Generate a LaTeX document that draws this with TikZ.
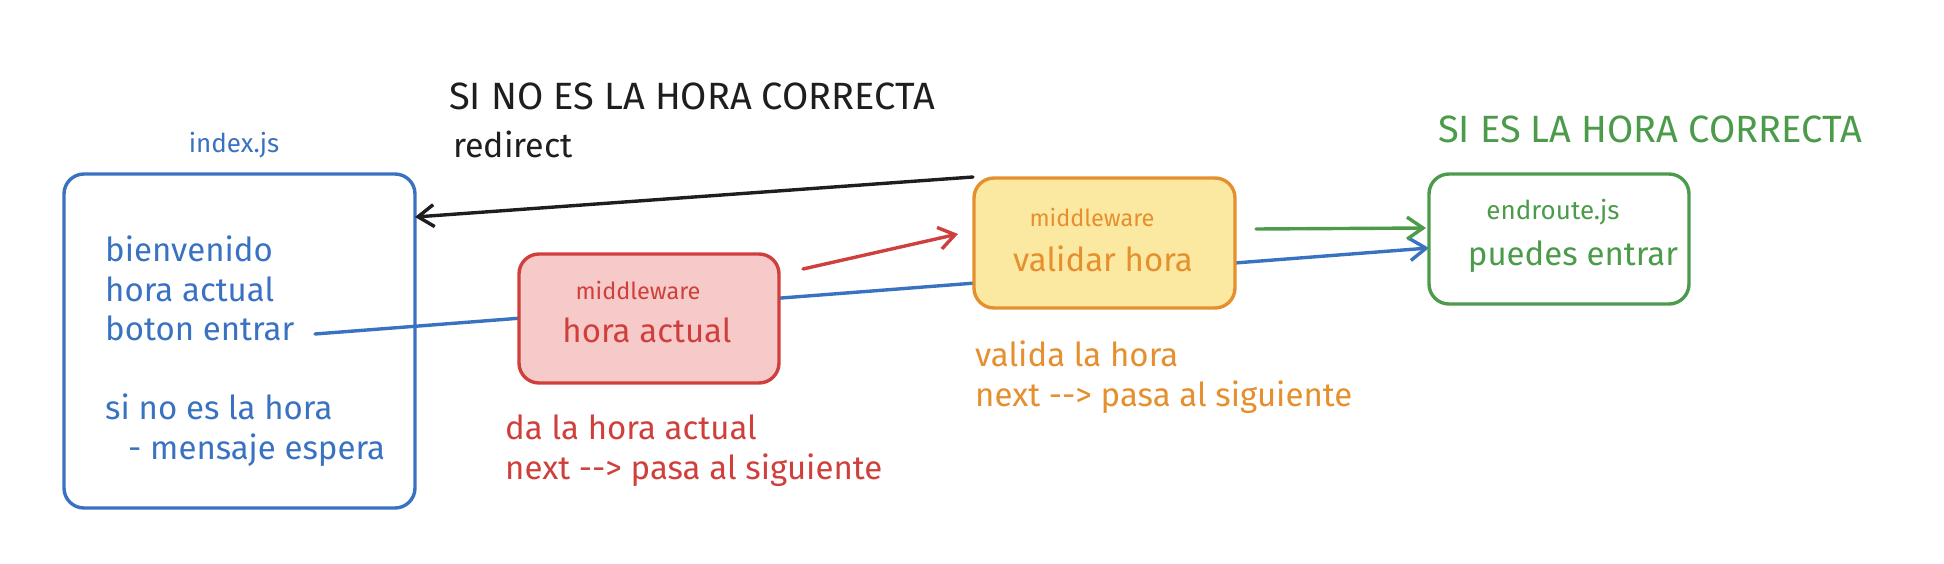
\documentclass[tikz,border=0pt]{standalone}
\usepackage{fontspec}
\setmainfont{Fira Sans}
\usetikzlibrary{arrows.meta,calc}
\definecolor{cblue}{HTML}{3A72C2}
\definecolor{cred}{HTML}{CF3F3B}
\definecolor{credfill}{HTML}{F7CACA}
\definecolor{corange}{HTML}{E58F2E}
\definecolor{corangefill}{HTML}{FBE9A1}
\definecolor{cgreen}{HTML}{4B9B4B}
\definecolor{cblack}{HTML}{1E1E1E}
\newcommand{\arr}{-\kern0pt-\kern0pt>}
\begin{document}
\begin{tikzpicture}[x=1pt,y=-1pt,
  box/.style={rounded corners=20pt, line width=3.4pt, inner sep=0pt, minimum width=260pt, minimum height=130pt},
  big/.style={font=\fontsize{33}{39.5}\selectfont, inner sep=0pt},
  small/.style={font=\fontsize{23.5}{28}\selectfont, inner sep=0pt},
  fname/.style={font=\fontsize{26}{30}\selectfont, inner sep=0pt},
  caps/.style={font=\fontsize{38}{44}\selectfont, inner sep=0pt},
  conn/.style={line width=3.4pt, line cap=round, -{Straight Barb[length=16pt,width=22pt,line width=3.4pt]}}
]
\useasboundingbox (0,0) rectangle (1944,564);

% endpoints
\coordinate (blueS) at (315,334);
\coordinate (blueE) at (1429,248);
\coordinate (blkS) at (973,177);
\coordinate (blkE) at (415,217);
\coordinate (redS) at (803,269);
\coordinate (redE) at (958,234);
\coordinate (grnS) at (1256,229);
\coordinate (grnE) at (1426,228);

% blue line behind boxes
\draw[conn, draw=cblue] (blueS) -- (blueE);

% boxes
\node[box, draw=cblue, minimum width=351pt, minimum height=334pt] (idx) at (239.5,341) {};
\node[box, draw=cred, fill=credfill, minimum width=260pt, minimum height=129pt] (mw1) at (649,318.5) {};
\node[box, draw=corange, fill=corangefill, minimum width=261pt, minimum height=130pt] (mw2) at (1104.5,243) {};
\node[box, draw=cgreen, minimum width=260pt, minimum height=130pt] (end) at (1559,239) {};

% index box texts
\node[fname, text=cblue] (idxlbl) at (234,145) {index.js};
\node[big, text=cblue, anchor=base west, align=left] (idxtxt) at (105,459)
  {bienvenido\\hora actual\\boton entrar\\[39.5pt]si no es la hora\\\hspace*{23pt}- mensaje espera};

% middleware 1
\node[small, text=cred] (mw1a) at (638,290) {middleware};
\node[big, text=cred] (mw1b) at (647,330) {hora actual};
\node[big, text=cred, anchor=base west, align=left] (mw1c) at (505,479)
  {da la hora actual\\next \arr{} pasa al siguiente};

% middleware 2
\node[small, text=corange] (mw2a) at (1092,217) {middleware};
\node[big, text=corange] (mw2b) at (1103,259) {validar hora};
\node[big, text=corange, anchor=base west, align=left] (mw2c) at (975,406)
  {valida la hora\\next \arr{} pasa al siguiente};

% endroute
\node[fname, text=cgreen] (enda) at (1553,212) {endroute.js};
\node[big, text=cgreen] (endb) at (1573,257) {puedes entrar};

% headings
\node[caps, text=cblack, anchor=base west] (nohdr) at (449,110) {SI NO ES LA HORA CORRECTA};
\node[big, font=\fontsize{34}{40}\selectfont, text=cblack, anchor=base west] (redir) at (453,158) {redirect};
\node[caps, text=cgreen, anchor=base west] (sihdr) at (1438,143) {SI ES LA HORA CORRECTA};

% connectors
\draw[conn, draw=cblack] (blkS) -- (blkE);
\draw[conn, draw=cred] (redS) -- (redE);
\draw[conn, draw=cgreen] (grnS) -- (grnE);
\end{tikzpicture}
\end{document}
